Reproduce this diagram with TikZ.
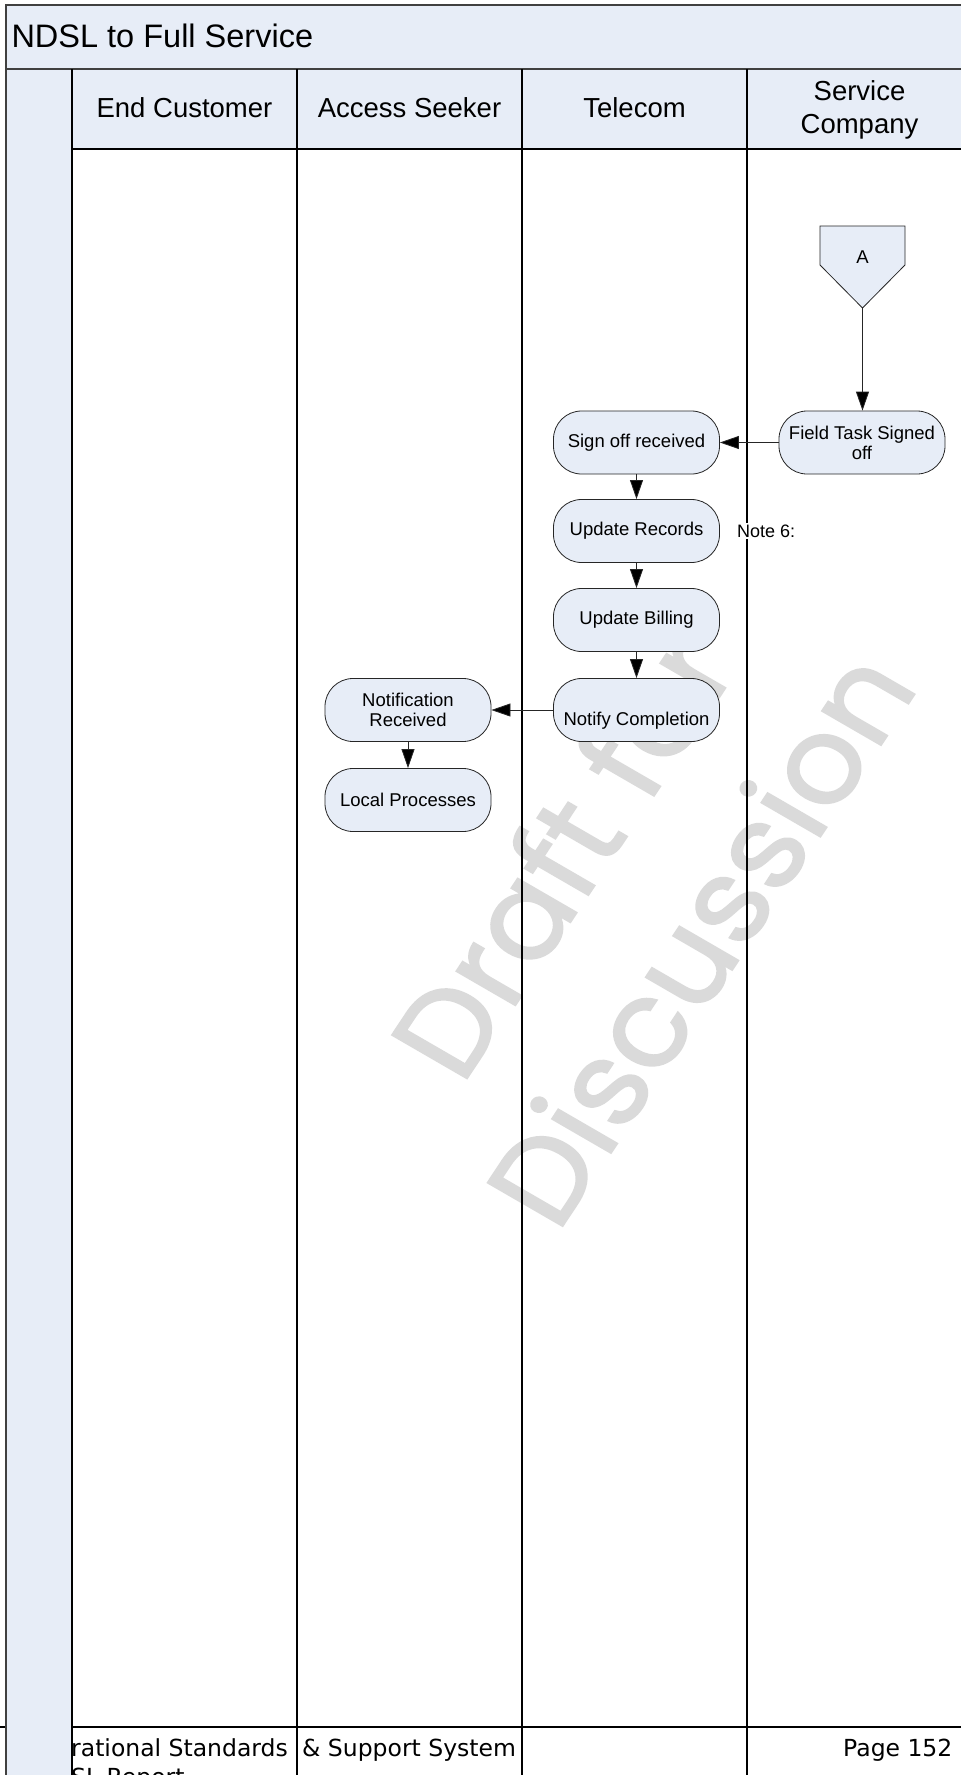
\documentclass[tikz,border=0pt]{standalone}
\usepackage{fontspec}
\setmainfont{Liberation Sans}
\newfontfamily\wmfont[FakeBold=1.5]{Poppins}
\newfontfamily\footfont{DejaVu Sans}
\usetikzlibrary{arrows.meta}

\definecolor{lanefill}{RGB}{231,237,247}
\definecolor{framegray}{RGB}{64,64,64}
\definecolor{wmgray}{RGB}{218,218,218}

\tikzset{
  procbox/.style={draw=black!85, fill=lanefill, rounded corners=28pt,
    minimum width=166pt, minimum height=63pt, align=center, inner sep=2pt,
    line width=0.8pt, font=\fontsize{18.5}{20}\selectfont},
  flow/.style={draw=black!85, line width=0.8pt,
    -{Triangle[length=19pt,width=13pt,fill=black]}},
  lanehead/.style={align=center, font=\fontsize{27.5}{33}\selectfont},
  laneline/.style={draw=black, line width=1.3pt},
  watermark/.style={inner sep=0pt, text=wmgray, rotate=56.5, xslant=-0.06,
    font=\wmfont\fontsize{124}{160}\selectfont},
  foottext/.style={anchor=base west, inner sep=0pt, font=\footfont\fontsize{23.5}{29}\selectfont},
}

\begin{document}
\begin{tikzpicture}[x=1pt,y=-1pt]
\clip (0,0) rectangle (961,1775);

% title band and header row
\fill[lanefill] (6,5) rectangle (980,69);
\fill[lanefill] (72,69) rectangle (980,149);
\node[anchor=west, font=\fontsize{32.5}{36}\selectfont] (title) at (8,36) {NDSL to Full Service};

% watermark behind the lanes
\node[watermark] (wm1) at (560,853) {Draft for};
\node[watermark] (wm2) at (698,937) {Discussion};

% page footer text (partly under the side band)
\node[foottext] (foot1) at (71,1756) {rational Standards};
\node[foottext] (foot2) at (302,1756) {\& Support System};
\node[foottext] (foot3) at (71,1785) {SL Report};
\node[foottext] (foot4) at (843,1756) {Page 152 of};
\draw[line width=2.2pt] (0,1727) -- (961,1727);

% side band and frame
\fill[lanefill] (6,69) rectangle (72,1780);
\draw[framegray, line width=1.5pt] (980,5) -- (6,5) -- (6,1780);
\draw[framegray, line width=2pt] (6,68.5) -- (980,68.5);
\draw[laneline] (72,149) -- (980,149);
\foreach \x in {72,297,522,747}
  \draw[laneline] (\x,69) -- (\x,1780);

% lane headings
\node[lanehead] (hcust) at (184.5,108) {End Customer};
\node[lanehead] (hseek) at (409.5,108) {Access Seeker};
\node[lanehead] (htel)  at (634.5,108) {Telecom};
\node[lanehead] (hserv) at (859.5,110) {Service\\Company};

% off-page connector A
\draw[draw=black!85, fill=lanefill, line width=0.8pt]
  (820,226) -- (905,226) -- (905,265) -- (862.5,308) -- (820,265) -- cycle;
\node[font=\fontsize{18.5}{20}\selectfont] (conA) at (862.5,257) {A};
\coordinate (Atip) at (862.5,308);

% process steps
\node[procbox] (field) at (862,442.5) {Field Task Signed\\off};
\node[procbox] (signoff) at (636.5,442.5) {Sign off received};
\node[procbox] (records) at (636.5,531) {Update Records};
\node[procbox] (billing) at (636.5,620) {Update Billing};
\node[procbox] (notify)  at (636.5,710) {\strut\\Notify Completion};
\node[procbox] (notif)   at (408,710) {Notification\\Received};
\node[procbox] (local)   at (408,800) {Local Processes};

\node[anchor=west, fill=white, inner sep=2pt, font=\fontsize{18}{20}\selectfont] (note6) at (735,531) {Note 6:};

% connectors
\draw[flow] (Atip) -- (Atip |- field.north);
\draw[flow] (field.west) -- (signoff.east);
\draw[flow] (signoff.south) -- (records.north);
\draw[flow] (records.south) -- (billing.north);
\draw[flow] (billing.south) -- (notify.north);
\draw[flow] (notify.west) -- (notif.east);
\draw[flow] (notif.south) -- (local.north);
\end{tikzpicture}
\end{document}
